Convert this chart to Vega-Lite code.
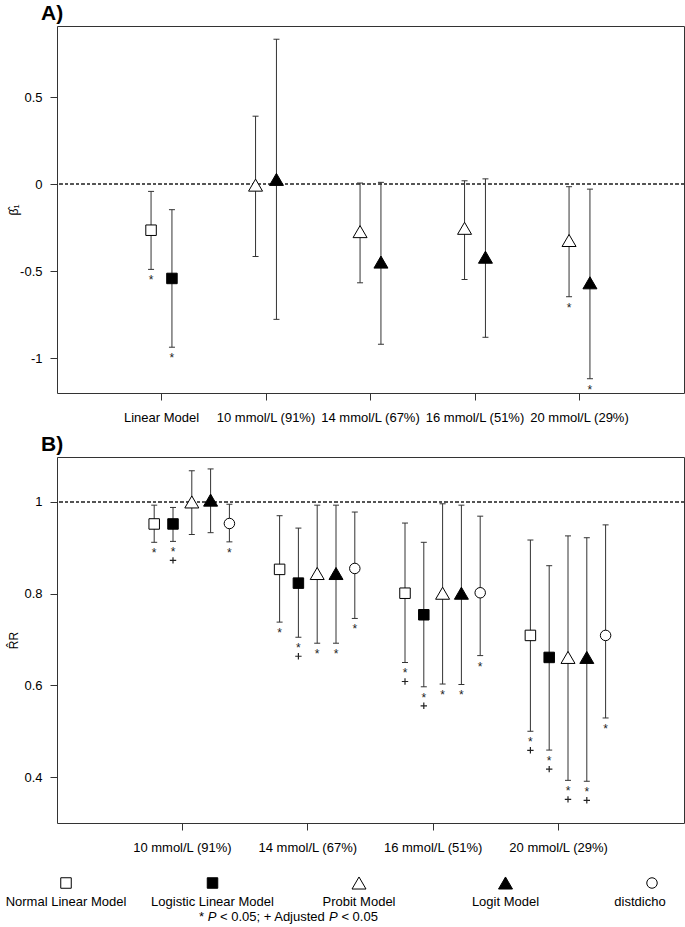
{
  "$schema": "https://vega.github.io/schema/vega-lite/v6.json",
  "background": "white",
  "padding": {"left": 5, "top": 2, "right": 0, "bottom": 0},
  "bounds": "flush",
  "spacing": 64,
  "resolve": {"scale": {"xOffset": "independent", "x": "independent", "y": "independent"}},
  "config": {
    "font": "Liberation Sans",
    "view": {"stroke": "#333", "strokeWidth": 1},
    "axis": {"grid": false, "domain": false, "ticks": true, "tickColor": "#333", "tickWidth": 1, "tickSize": 7, "labelFontSize": 13, "labelColor": "black", "titleFontSize": 12, "titleColor": "black", "titleFontWeight": "normal", "labelOverlap": false},
    "axisX": {"labelPadding": 11, "labelAngle": 0},
    "axisY": {"labelPadding": 8},
    "title": {"fontSize": 21, "fontWeight": "bold", "color": "black", "anchor": "start", "frame": "group", "offset": 2, "dx": -16}
  },
  "datasets": {
    "A": [
      {"group": "Linear Model", "model": "Normal Linear Model", "dist": "Normal", "est": -0.265, "lo": -0.49, "hi": -0.042, "sig": true, "adj": false},
      {"group": "Linear Model", "model": "Logistic Linear Model", "dist": "Logistic", "est": -0.542, "lo": -0.937, "hi": -0.147, "sig": true, "adj": false},
      {"group": "10 mmol/L (91%)", "model": "Probit Model", "dist": "Normal", "est": -0.006, "lo": -0.416, "hi": 0.39, "sig": false, "adj": false},
      {"group": "10 mmol/L (91%)", "model": "Logit Model", "dist": "Logistic", "est": 0.027, "lo": -0.777, "hi": 0.832, "sig": false, "adj": false},
      {"group": "14 mmol/L (67%)", "model": "Probit Model", "dist": "Normal", "est": -0.273, "lo": -0.567, "hi": 0.006, "sig": false, "adj": false},
      {"group": "14 mmol/L (67%)", "model": "Logit Model", "dist": "Logistic", "est": -0.448, "lo": -0.92, "hi": 0.01, "sig": false, "adj": false},
      {"group": "16 mmol/L (51%)", "model": "Probit Model", "dist": "Normal", "est": -0.254, "lo": -0.548, "hi": 0.019, "sig": false, "adj": false},
      {"group": "16 mmol/L (51%)", "model": "Logit Model", "dist": "Logistic", "est": -0.42, "lo": -0.88, "hi": 0.03, "sig": false, "adj": false},
      {"group": "20 mmol/L (29%)", "model": "Probit Model", "dist": "Normal", "est": -0.324, "lo": -0.647, "hi": -0.015, "sig": true, "adj": false},
      {"group": "20 mmol/L (29%)", "model": "Logit Model", "dist": "Logistic", "est": -0.567, "lo": -1.118, "hi": -0.029, "sig": true, "adj": false}
    ],
    "B": [
      {"group": "10 mmol/L (91%)", "model": "Normal Linear Model", "est": 0.952, "lo": 0.912, "hi": 0.993, "sig": true, "adj": false},
      {"group": "10 mmol/L (91%)", "model": "Logistic Linear Model", "est": 0.952, "lo": 0.914, "hi": 0.988, "sig": true, "adj": true},
      {"group": "10 mmol/L (91%)", "model": "Probit Model", "est": 1.0, "lo": 0.929, "hi": 1.068, "sig": false, "adj": false},
      {"group": "10 mmol/L (91%)", "model": "Logit Model", "est": 1.004, "lo": 0.933, "hi": 1.072, "sig": false, "adj": false},
      {"group": "10 mmol/L (91%)", "model": "distdicho", "est": 0.953, "lo": 0.913, "hi": 0.995, "sig": true, "adj": false},
      {"group": "14 mmol/L (67%)", "model": "Normal Linear Model", "est": 0.853, "lo": 0.738, "hi": 0.970, "sig": true, "adj": false},
      {"group": "14 mmol/L (67%)", "model": "Logistic Linear Model", "est": 0.823, "lo": 0.705, "hi": 0.943, "sig": true, "adj": true},
      {"group": "14 mmol/L (67%)", "model": "Probit Model", "est": 0.844, "lo": 0.692, "hi": 0.993, "sig": true, "adj": false},
      {"group": "14 mmol/L (67%)", "model": "Logit Model", "est": 0.844, "lo": 0.692, "hi": 0.993, "sig": true, "adj": false},
      {"group": "14 mmol/L (67%)", "model": "distdicho", "est": 0.855, "lo": 0.746, "hi": 0.978, "sig": true, "adj": false},
      {"group": "16 mmol/L (51%)", "model": "Normal Linear Model", "est": 0.801, "lo": 0.650, "hi": 0.954, "sig": true, "adj": true},
      {"group": "16 mmol/L (51%)", "model": "Logistic Linear Model", "est": 0.754, "lo": 0.597, "hi": 0.912, "sig": true, "adj": true},
      {"group": "16 mmol/L (51%)", "model": "Probit Model", "est": 0.801, "lo": 0.603, "hi": 0.996, "sig": true, "adj": false},
      {"group": "16 mmol/L (51%)", "model": "Logit Model", "est": 0.801, "lo": 0.602, "hi": 0.993, "sig": true, "adj": false},
      {"group": "16 mmol/L (51%)", "model": "distdicho", "est": 0.802, "lo": 0.665, "hi": 0.969, "sig": true, "adj": false},
      {"group": "20 mmol/L (29%)", "model": "Normal Linear Model", "est": 0.709, "lo": 0.500, "hi": 0.917, "sig": true, "adj": true},
      {"group": "20 mmol/L (29%)", "model": "Logistic Linear Model", "est": 0.661, "lo": 0.459, "hi": 0.861, "sig": true, "adj": true},
      {"group": "20 mmol/L (29%)", "model": "Probit Model", "est": 0.661, "lo": 0.393, "hi": 0.926, "sig": true, "adj": true},
      {"group": "20 mmol/L (29%)", "model": "Logit Model", "est": 0.661, "lo": 0.391, "hi": 0.922, "sig": true, "adj": true},
      {"group": "20 mmol/L (29%)", "model": "distdicho", "est": 0.709, "lo": 0.529, "hi": 0.950, "sig": true, "adj": false}
    ],
    "models": [
      {"model": "Normal Linear Model"},
      {"model": "Logistic Linear Model"},
      {"model": "Probit Model"},
      {"model": "Logit Model"},
      {"model": "distdicho"}
    ]
  },
  "vconcat": [
    {
      "width": 627,
      "height": 367,
      "title": "A)",
      "data": {"name": "A"},
      "layer": [
        {
          "mark": {"type": "rule", "color": "#555", "strokeWidth": 1, "strokeDash": [3, 2.5]},
          "encoding": {
            "y": {"datum": 0, "type": "quantitative",
              "scale": {"domain": [-1.2, 0.908], "nice": false, "zero": false},
              "axis": {"title": "β̂₁", "values": [-1, -0.5, 0, 0.5], "labelExpr": "toString(datum.value)", "titleX": -44, "titleBaseline": "middle"}}
          }
        },
        {
          "encoding": {
            "x": {"field": "group", "type": "nominal",
              "scale": {"type": "band", "domain": ["Linear Model", "10 mmol/L (91%)", "14 mmol/L (67%)", "16 mmol/L (51%)", "20 mmol/L (29%)"], "paddingInner": 0, "paddingOuter": 0.5},
              "axis": {"title": null, "bandPosition": 0.5}},
            "xOffset": {"field": "dist", "type": "nominal", "scale": {"type": "point", "padding": 0, "domain": ["Normal", "Logistic"], "range": [41.8, 62.7]}}
          },
          "layer": [
            {"mark": {"type": "rule", "color": "#333", "strokeWidth": 1}, "encoding": {"y": {"field": "lo", "type": "quantitative"}, "y2": {"field": "hi"}}},
            {"mark": {"type": "tick", "color": "#333", "orient": "horizontal", "size": 6, "thickness": 1, "opacity": 1}, "encoding": {"y": {"field": "lo", "type": "quantitative"}}},
            {"mark": {"type": "tick", "color": "#333", "orient": "horizontal", "size": 6, "thickness": 1, "opacity": 1}, "encoding": {"y": {"field": "hi", "type": "quantitative"}}},
            {
              "mark": {"type": "point", "filled": true, "stroke": "black", "strokeWidth": 1, "opacity": 1, "size": 196},
              "encoding": {
                "y": {"field": "est", "type": "quantitative"},
                "shape": {"field": "model", "type": "nominal", "legend": null, "scale": {"domain": ["Normal Linear Model", "Logistic Linear Model", "Probit Model", "Logit Model", "distdicho"], "range": ["M-0.75,-0.75L0.75,-0.75L0.75,0.75L-0.75,0.75Z", "M-0.75,-0.75L0.75,-0.75L0.75,0.75L-0.75,0.75Z", "M0,-0.86L1,0.86L-1,0.86Z", "M0,-0.86L1,0.86L-1,0.86Z", "M0.75,0A0.75,0.75,0,1,1,-0.75,0A0.75,0.75,0,1,1,0.75,0Z"]}},
                "fill": {"field": "model", "type": "nominal", "legend": null, "scale": {"domain": ["Normal Linear Model", "Logistic Linear Model", "Probit Model", "Logit Model", "distdicho"], "range": ["white", "black", "white", "black", "white"]}}
              }
            },
            {"transform": [{"filter": "datum.sig"}], "mark": {"type": "text", "text": "*", "fontSize": 12, "baseline": "middle", "dy": 11, "color": "#222"}, "encoding": {"y": {"field": "lo", "type": "quantitative"}}},
            {"transform": [{"filter": "datum.adj"}], "mark": {"type": "point", "shape": "M-1,5.94L1,5.94M0,4.94L0,6.94", "size": 41, "filled": false, "stroke": "#222", "strokeWidth": 1.2, "opacity": 1}, "encoding": {"y": {"field": "lo", "type": "quantitative"}}}
          ]
        }
      ]
    },
    {
      "width": 627,
      "height": 366,
      "title": "B)",
      "data": {"name": "B"},
      "layer": [
        {
          "mark": {"type": "rule", "color": "#555", "strokeWidth": 1, "strokeDash": [3, 2.5]},
          "encoding": {
            "y": {"datum": 1, "type": "quantitative",
              "scale": {"domain": [0.3, 1.098], "nice": false, "zero": false},
              "axis": {"title": "R̂R", "values": [0.4, 0.6, 0.8, 1], "labelExpr": "toString(datum.value)", "titleX": -44, "titleBaseline": "middle"}}
          }
        },
        {
          "encoding": {
            "x": {"field": "group", "type": "nominal",
              "scale": {"type": "band", "domain": ["10 mmol/L (91%)", "14 mmol/L (67%)", "16 mmol/L (51%)", "20 mmol/L (29%)"], "paddingInner": 0, "paddingOuter": 0.5},
              "axis": {"title": null, "bandPosition": 0.5}},
            "xOffset": {"field": "model", "type": "nominal", "scale": {"type": "point", "padding": 0, "domain": ["Normal Linear Model", "Logistic Linear Model", "Probit Model", "Logit Model", "distdicho"], "range": [34.5, 109.7]}}
          },
          "layer": [
            {"mark": {"type": "rule", "color": "#333", "strokeWidth": 1}, "encoding": {"y": {"field": "lo", "type": "quantitative"}, "y2": {"field": "hi"}}},
            {"mark": {"type": "tick", "color": "#333", "orient": "horizontal", "size": 6, "thickness": 1, "opacity": 1}, "encoding": {"y": {"field": "lo", "type": "quantitative"}}},
            {"mark": {"type": "tick", "color": "#333", "orient": "horizontal", "size": 6, "thickness": 1, "opacity": 1}, "encoding": {"y": {"field": "hi", "type": "quantitative"}}},
            {
              "mark": {"type": "point", "filled": true, "stroke": "black", "strokeWidth": 1, "opacity": 1, "size": 196},
              "encoding": {
                "y": {"field": "est", "type": "quantitative"},
                "shape": {"field": "model", "type": "nominal", "legend": null, "scale": {"domain": ["Normal Linear Model", "Logistic Linear Model", "Probit Model", "Logit Model", "distdicho"], "range": ["M-0.75,-0.75L0.75,-0.75L0.75,0.75L-0.75,0.75Z", "M-0.75,-0.75L0.75,-0.75L0.75,0.75L-0.75,0.75Z", "M0,-0.86L1,0.86L-1,0.86Z", "M0,-0.86L1,0.86L-1,0.86Z", "M0.75,0A0.75,0.75,0,1,1,-0.75,0A0.75,0.75,0,1,1,0.75,0Z"]}},
                "fill": {"field": "model", "type": "nominal", "legend": null, "scale": {"domain": ["Normal Linear Model", "Logistic Linear Model", "Probit Model", "Logit Model", "distdicho"], "range": ["white", "black", "white", "black", "white"]}}
              }
            },
            {"transform": [{"filter": "datum.sig"}], "mark": {"type": "text", "text": "*", "fontSize": 12, "baseline": "middle", "dy": 11, "color": "#222"}, "encoding": {"y": {"field": "lo", "type": "quantitative"}}},
            {"transform": [{"filter": "datum.adj"}], "mark": {"type": "point", "shape": "M-1,5.94L1,5.94M0,4.94L0,6.94", "size": 41, "filled": false, "stroke": "#222", "strokeWidth": 1.2, "opacity": 1}, "encoding": {"y": {"field": "lo", "type": "quantitative"}}}
          ]
        }
      ]
    },
    {
      "width": 627,
      "height": 40,
      "view": {"stroke": null},
      "layer": [
        {
          "data": {"name": "models"},
          "encoding": {
            "x": {"field": "model", "type": "nominal", "axis": null,
              "scale": {"type": "point", "padding": 0, "domain": ["Normal Linear Model", "Logistic Linear Model", "Probit Model", "Logit Model", "distdicho"], "range": [9, 595]}}
          },
          "layer": [
            {
              "mark": {"type": "point", "filled": true, "stroke": "black", "strokeWidth": 1, "opacity": 1, "size": 196},
              "encoding": {
                "y": {"datum": 0, "type": "quantitative", "axis": null, "scale": {"domain": [0, 1], "range": [-4, 15]}},
                "shape": {"field": "model", "type": "nominal", "legend": null, "scale": {"domain": ["Normal Linear Model", "Logistic Linear Model", "Probit Model", "Logit Model", "distdicho"], "range": ["M-0.75,-0.75L0.75,-0.75L0.75,0.75L-0.75,0.75Z", "M-0.75,-0.75L0.75,-0.75L0.75,0.75L-0.75,0.75Z", "M0,-0.86L1,0.86L-1,0.86Z", "M0,-0.86L1,0.86L-1,0.86Z", "M0.75,0A0.75,0.75,0,1,1,-0.75,0A0.75,0.75,0,1,1,0.75,0Z"]}},
                "fill": {"field": "model", "type": "nominal", "legend": null, "scale": {"domain": ["Normal Linear Model", "Logistic Linear Model", "Probit Model", "Logit Model", "distdicho"], "range": ["white", "black", "white", "black", "white"]}}
              }
            },
            {
              "transform": [{"filter": "datum.model !== 'distdicho'"}],
              "mark": {"type": "text", "fontSize": 13, "baseline": "middle", "color": "black"},
              "encoding": {"y": {"datum": 1, "type": "quantitative"}, "text": {"field": "model"}}
            },
            {
              "transform": [{"filter": "datum.model === 'distdicho'"}],
              "mark": {"type": "text", "fontSize": 13, "baseline": "middle", "color": "black", "dx": -12},
              "encoding": {"y": {"datum": 1, "type": "quantitative"}, "text": {"field": "model"}}
            }
          ]
        },
        {
          "data": {"values": [{"note": "significance"}]},
          "encoding": {"y": {"datum": 1.8, "type": "quantitative"}},
          "layer": [
            {"mark": {"type": "text", "text": "*", "align": "left", "baseline": "middle", "fontSize": 13, "color": "black", "dx": -171.5}},
            {"mark": {"type": "text", "text": "P", "align": "left", "baseline": "middle", "fontSize": 13, "fontStyle": "italic", "color": "black", "dx": -162.8}},
            {"mark": {"type": "text", "text": "< 0.05; + Adjusted", "align": "left", "baseline": "middle", "fontSize": 13, "color": "black", "dx": -150.5}},
            {"mark": {"type": "text", "text": "P", "align": "left", "baseline": "middle", "fontSize": 13, "fontStyle": "italic", "color": "black", "dx": -41.4}},
            {"mark": {"type": "text", "text": "< 0.05", "align": "left", "baseline": "middle", "fontSize": 13, "color": "black", "dx": -29.1}}
          ]
        }
      ]
    }
  ]
}
